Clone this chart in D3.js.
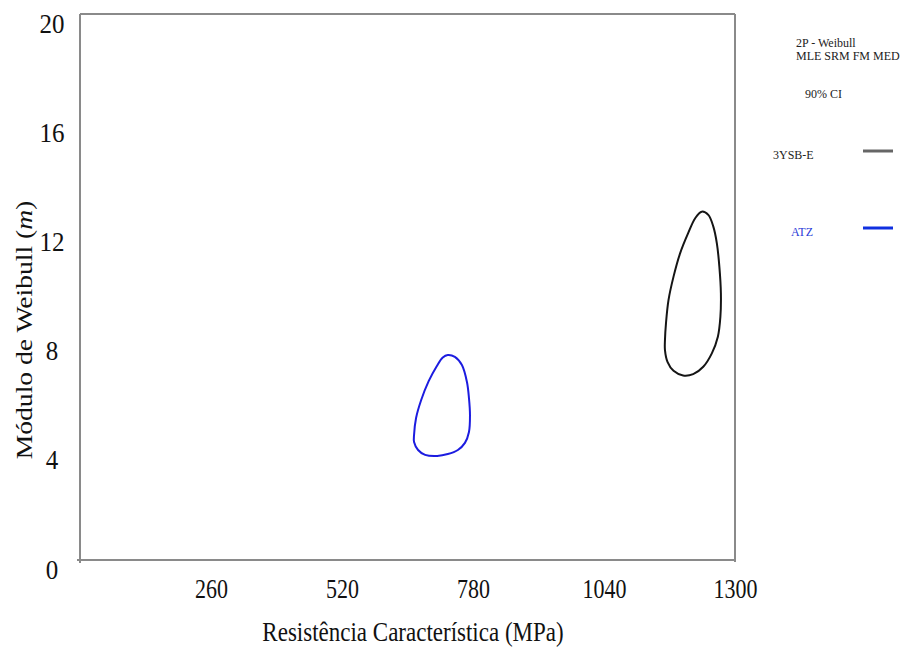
<!DOCTYPE html>
<html>
<head>
<meta charset="utf-8">
<script src="https://cdn.jsdelivr.net/npm/d3@7"></script>
<style>
  html, body { margin: 0; padding: 0; background: #fff; }
  svg text { font-family: "Liberation Serif", "Times New Roman", serif; }
</style>
</head>
<body>
<svg id="chart" width="904" height="648"></svg>
<script>
// ---- data ----
const xTicks = [260, 520, 780, 1040, 1300];
const yTicks = [0, 4, 8, 12, 16, 20];
const seriesNames = ["3YSB-E", "ATZ"];
const seriesColors = ["#151515", "#1c1ce0"];
const legendLineColors = ["#666666", "#1030e0"];
// contour points: [characteristic strength (MPa), Weibull modulus m]
const contour3YSBE = [
  [1234, 12.76], [1247, 12.64], [1257, 12.21], [1264, 11.60], [1269, 10.74],
  [1272, 9.77], [1271, 8.91], [1266, 8.18], [1254, 7.57], [1237, 7.08],
  [1217, 6.81], [1197, 6.76], [1178, 6.93], [1166, 7.26], [1161, 7.69],
  [1161, 8.06], [1163, 8.67], [1168, 9.52], [1178, 10.38], [1191, 11.23],
  [1207, 11.97], [1221, 12.52]
];
const contourATZ = [
  [730, 7.51], [744, 7.44], [758, 7.14], [768, 6.52], [772, 5.93],
  [774, 5.31], [772, 4.69], [764, 4.29], [750, 4.03], [730, 3.88],
  [709, 3.81], [685, 3.85], [671, 4.03], [663, 4.32], [663, 4.58],
  [667, 5.20], [677, 5.85], [692, 6.55], [708, 7.10], [720, 7.42]
];
const contours = [contour3YSBE, contourATZ];
const legendTitle = ["2P - Weibull", "MLE SRM FM MED"];
const legendCI = "90% CI";
const xTitle = "Resistência Característica (MPa)";

// ---- layout ----
const svg = d3.select("#chart");
const mLeft = 80, mRight = 735, mTop = 14, mBottom = 560;
const x = d3.scaleLinear().domain([0, 1300]).range([mLeft, mRight]);
const y = d3.scaleLinear().domain([0, 20]).range([mBottom, mTop]);
const frameColor = "#8a8a8a";

// frame (top and right borders)
svg.append("line").attr("x1", mLeft).attr("x2", mRight).attr("y1", mTop).attr("y2", mTop)
  .attr("stroke", frameColor).attr("stroke-width", 2);
svg.append("line").attr("x1", mRight).attr("x2", mRight).attr("y1", mTop).attr("y2", mBottom + 2)
  .attr("stroke", frameColor).attr("stroke-width", 2);

// x axis
const gx = svg.append("g").attr("transform", `translate(0,${mBottom})`)
  .call(d3.axisBottom(x).tickValues(xTicks).tickFormat(d3.format("d"))
    .tickSize(0).tickSizeOuter(0).tickPadding(0));
gx.attr("font-family", null);
gx.select(".domain").remove();
gx.selectAll("text").attr("y", 0).attr("dy", 0)
  .attr("transform", "translate(0,38) scale(1,1.2)")
  .attr("font-size", 22).attr("fill", "#111");
svg.append("line").attr("x1", mLeft - 3).attr("x2", mRight).attr("y1", mBottom).attr("y2", mBottom)
  .attr("stroke", frameColor).attr("stroke-width", 2);

// y axis
const gy = svg.append("g").attr("transform", `translate(${mLeft},0)`)
  .call(d3.axisLeft(y).tickValues(yTicks).tickFormat(d3.format("d"))
    .tickSize(0).tickSizeOuter(0).tickPadding(0));
gy.attr("font-family", null);
gy.select(".domain").remove();
gy.selectAll("text").attr("x", 0).attr("dy", 0).attr("text-anchor", "middle")
  .attr("transform", "translate(-28,18) scale(1,1.12)")
  .attr("font-size", 25).attr("fill", "#111");
svg.append("line").attr("x1", mLeft).attr("x2", mLeft).attr("y1", mTop).attr("y2", mBottom + 3)
  .attr("stroke", frameColor).attr("stroke-width", 2);

// axis titles
svg.append("text").attr("transform", "translate(413,641) scale(1,1.2)")
  .attr("text-anchor", "middle").attr("font-size", 23).attr("fill", "#111")
  .text(xTitle);
const yt = svg.append("text").attr("transform", "translate(32,330) rotate(-90) scale(1.2,1)")
  .attr("text-anchor", "middle").attr("font-size", 23).attr("fill", "#111");
yt.append("tspan").text("Módulo de Weibull (");
yt.append("tspan").attr("font-style", "italic").text("m");
yt.append("tspan").text(")");

// contours
const line = d3.line().x(d => x(d[0])).y(d => y(d[1])).curve(d3.curveCatmullRomClosed.alpha(0.5));
svg.selectAll("path.contour").data(contours).join("path")
  .attr("class", "contour")
  .attr("d", d => line(d))
  .attr("fill", "none")
  .attr("stroke", (d, i) => seriesColors[i])
  .attr("stroke-width", 2);

// legend
const lg = svg.append("g");
lg.selectAll("text.lt").data(legendTitle).join("text").attr("class", "lt")
  .attr("x", 796).attr("y", (d, i) => 47 + i * 13)
  .attr("font-size", 12).attr("fill", "#222").text(d => d);
lg.append("text").attr("x", 805).attr("y", 98).attr("font-size", 12).attr("fill", "#222").text(legendCI);
const legendX = [773, 791];
const legendY = [151, 228];
seriesNames.forEach((name, i) => {
  lg.append("text").attr("x", legendX[i]).attr("y", legendY[i] + 8)
    .attr("font-size", 12).attr("fill", i === 0 ? "#222" : "#2a3ad8").text(name);
  lg.append("line").attr("x1", 863).attr("x2", 893).attr("y1", legendY[i]).attr("y2", legendY[i])
    .attr("stroke", legendLineColors[i]).attr("stroke-width", 3);
});
</script>
</body>
</html>
